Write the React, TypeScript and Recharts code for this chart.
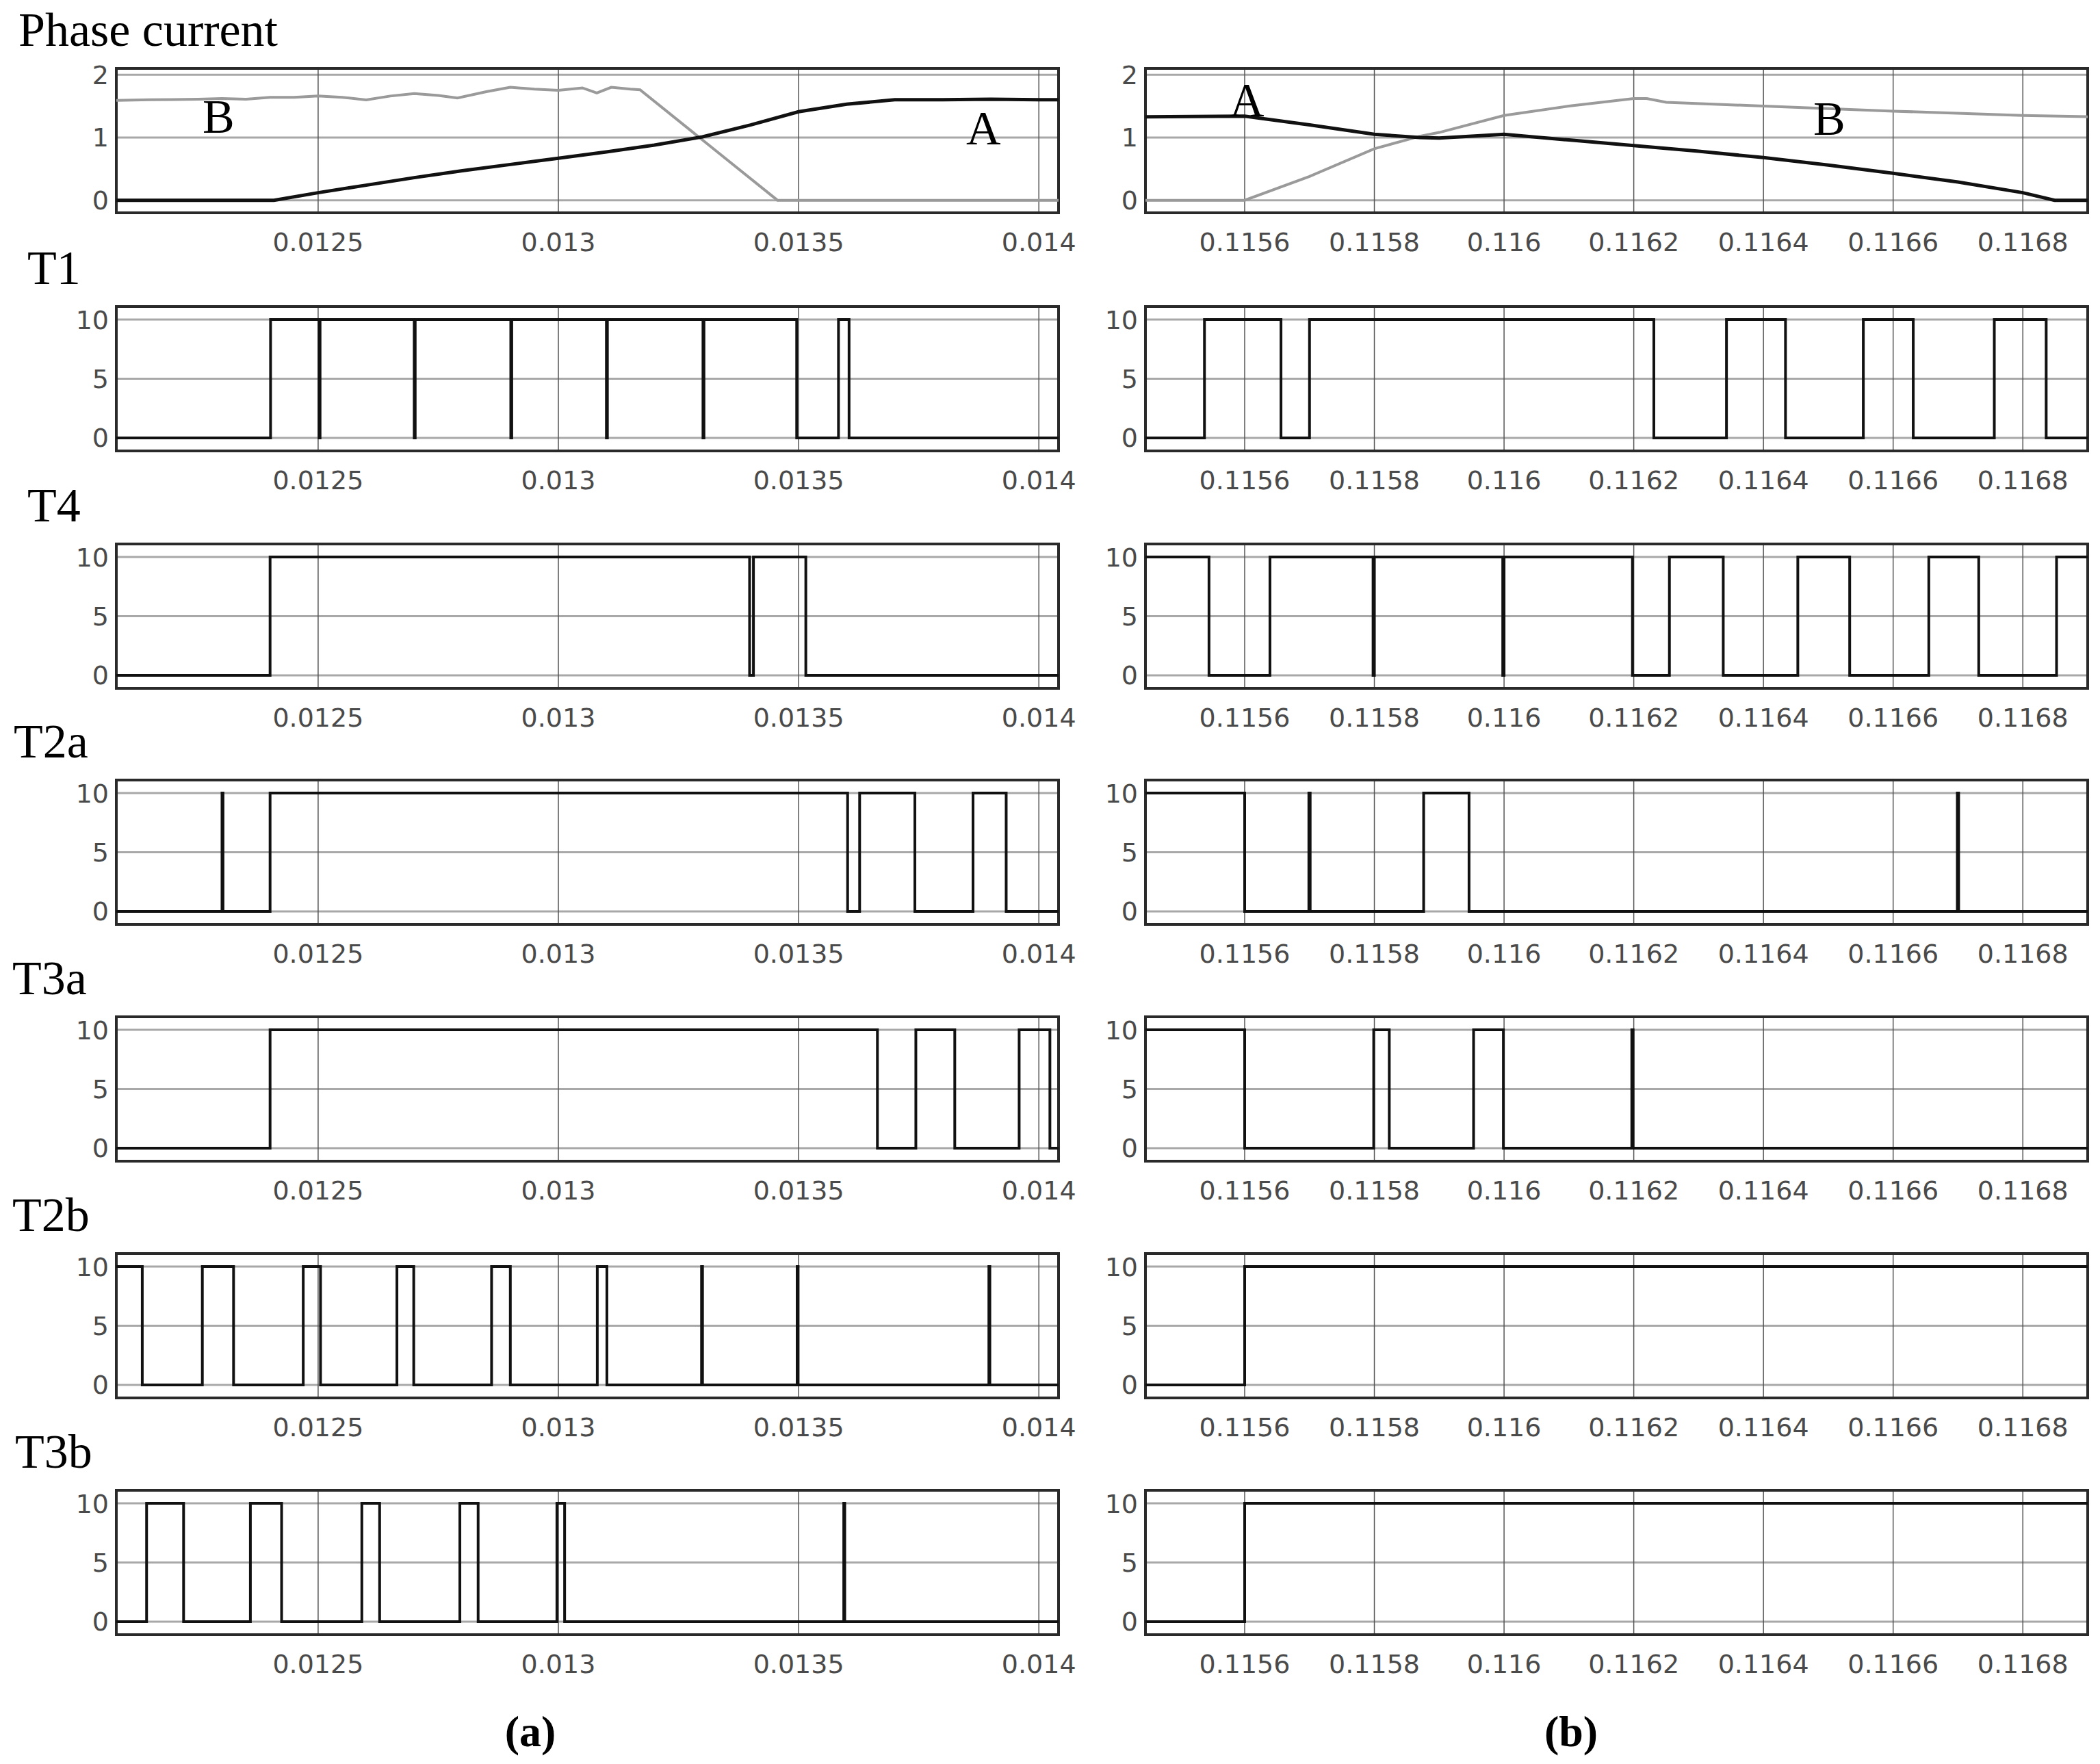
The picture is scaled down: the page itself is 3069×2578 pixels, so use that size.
import { CartesianGrid, Line, LineChart, ReferenceArea, XAxis, YAxis } from 'recharts'

// time windows (s)
const LEFT_DOMAIN = [0.01208, 0.014041]
const RIGHT_DOMAIN = [0.115447, 0.1169]
const LEFT_TICKS = [0.0125, 0.013, 0.0135, 0.014]
const RIGHT_TICKS = [0.1156, 0.1158, 0.116, 0.1162, 0.1164, 0.1166, 0.1168]

const CURRENT_DOMAIN = [-0.2, 2.1]
const CURRENT_TICKS = [0, 1, 2]
const GATE_DOMAIN = [-1.1, 11.1]
const GATE_TICKS = [0, 5, 10]

const ROW_TITLES = ['Phase current', 'T1', 'T4', 'T2a', 'T3a', 'T2b', 'T3b']

// phase currents [t, A]
const LEFT_IA = [
  [0.01208, 0], [0.012408, 0], [0.0125, 0.12], [0.0126, 0.24], [0.0127, 0.36], [0.0128, 0.47],
  [0.0129, 0.57], [0.013, 0.67], [0.0131, 0.77], [0.0132, 0.88], [0.0133, 1.01], [0.0134, 1.2],
  [0.0135, 1.41], [0.0136, 1.53], [0.0137, 1.6], [0.0138, 1.6], [0.0139, 1.61], [0.014, 1.6],
  [0.014041, 1.6],
]
const LEFT_IB = [
  [0.01208, 1.59], [0.01215, 1.6], [0.01225, 1.61], [0.0123, 1.62], [0.01235, 1.61], [0.0124, 1.64],
  [0.01245, 1.64], [0.0125, 1.66], [0.01255, 1.64], [0.0126, 1.6], [0.01265, 1.66], [0.0127, 1.7],
  [0.01275, 1.67], [0.01279, 1.63], [0.01285, 1.73], [0.0129, 1.8], [0.01295, 1.77], [0.013, 1.75],
  [0.01305, 1.79], [0.01308, 1.71], [0.01311, 1.8], [0.01315, 1.77], [0.01317, 1.76],
  [0.013456, 0], [0.014041, 0],
]
const RIGHT_IA = [
  [0.115447, 1.33], [0.1156, 1.34], [0.1157, 1.2], [0.1158, 1.05], [0.11587, 1.0], [0.1159, 0.99],
  [0.116, 1.05], [0.1161, 0.96], [0.1162, 0.87], [0.1163, 0.78], [0.1164, 0.68], [0.1165, 0.56],
  [0.1166, 0.43], [0.1167, 0.29], [0.1168, 0.12], [0.116849, 0], [0.1169, 0],
]
const RIGHT_IB = [
  [0.115447, 0], [0.1156, 0], [0.1157, 0.38], [0.1158, 0.82], [0.11587, 1.02], [0.1159, 1.08],
  [0.116, 1.35], [0.1161, 1.5], [0.1162, 1.62], [0.11622, 1.62], [0.11625, 1.56], [0.1164, 1.5],
  [0.1166, 1.42], [0.1168, 1.35], [0.1169, 1.33],
]

// gate signals: starting level and switching instants
const LEFT_T1 = { start: 0, edges: [0.012401, 0.012502, 0.012504, 0.0127, 0.012702, 0.012901, 0.012903, 0.0131, 0.013102, 0.013301, 0.013303, 0.013496, 0.013583, 0.013605] }
const LEFT_T4 = { start: 0, edges: [0.0124, 0.013398, 0.013406, 0.013515] }
const LEFT_T2A = { start: 0, edges: [0.0123, 0.012302, 0.0124, 0.013602, 0.013627, 0.013742, 0.013863, 0.013932] }
const LEFT_T3A = { start: 0, edges: [0.0124, 0.013664, 0.013744, 0.013825, 0.013959, 0.014023] }
const LEFT_T2B = { start: 10, edges: [0.012134, 0.012259, 0.012324, 0.012469, 0.012505, 0.012664, 0.012699, 0.012861, 0.0129, 0.013081, 0.013101, 0.013298, 0.0133, 0.013497, 0.013499, 0.013896, 0.013898] }
const LEFT_T3B = { start: 0, edges: [0.012143, 0.01222, 0.012359, 0.012424, 0.012591, 0.012628, 0.012795, 0.012833, 0.012997, 0.013013, 0.013594, 0.013596] }

const RIGHT_T1 = { start: 0, edges: [0.115538, 0.115656, 0.1157, 0.116231, 0.116343, 0.116434, 0.116554, 0.116631, 0.116756, 0.116836] }
const RIGHT_T4 = { start: 10, edges: [0.115545, 0.115639, 0.115798, 0.1158, 0.115998, 0.116, 0.116198, 0.116255, 0.116338, 0.116453, 0.116533, 0.116655, 0.116732, 0.116852] }
const RIGHT_T2A = { start: 10, edges: [0.1156, 0.115699, 0.115701, 0.115876, 0.115946, 0.116699, 0.116701] }
const RIGHT_T3A = { start: 10, edges: [0.1156, 0.115799, 0.115823, 0.115953, 0.115999, 0.116197, 0.116199] }
const RIGHT_T2B = { start: 0, edges: [0.1156] }
const RIGHT_T3B = { start: 0, edges: [0.1156] }

// layout (px)
const ROW_TOPS = [100, 448, 795, 1140, 1486, 1832, 2178]
const BOX_H = 211
const BOX_W = 1377
const LEFT_X = 170
const RIGHT_X = 1674
const Y_AXIS_W = 110
const X_AXIS_H = 80
const PAD_TOP = 30
const PAD_RIGHT = 40

const TITLE_X = [27, 40, 40, 20, 18, 18, 22]

const toPoints = (rows: number[][]) => rows.map(([t, v]) => ({ t, v }))

function steps(domain: number[], sig: { start: number; edges: number[] }) {
  let level = sig.start
  const pts = [{ t: domain[0], v: level }]
  for (const e of sig.edges) {
    level = level === 0 ? 10 : 0
    pts.push({ t: e, v: level })
  }
  pts.push({ t: domain[1], v: level })
  return pts
}

type Series = { data: { t: number; v: number }[]; color: string; width: number; type: 'linear' | 'stepAfter' }

const tickStyle = { fontFamily: 'DejaVu Sans', fontSize: 38, fill: '#4a4a4a' }

function Panel({ left, top, xDomain, xTicks, yDomain, yTicks, series }: {
  left: number; top: number; xDomain: number[]; xTicks: number[]; yDomain: number[]; yTicks: number[]; series: Series[]
}) {
  return (
    <div style={{ position: 'absolute', left: left - Y_AXIS_W, top: top - PAD_TOP }}>
      <LineChart
        width={Y_AXIS_W + BOX_W + PAD_RIGHT}
        height={PAD_TOP + BOX_H + X_AXIS_H}
        margin={{ top: PAD_TOP, right: PAD_RIGHT, bottom: 0, left: 0 }}
      >
        <CartesianGrid vertical={false} stroke="#a8a8a8" strokeWidth={3} />
        <CartesianGrid horizontal={false} stroke="#555" strokeWidth={1.5} />
        <XAxis
          type="number"
          dataKey="t"
          domain={xDomain}
          ticks={xTicks}
          interval={0}
          allowDataOverflow
          axisLine={false}
          tickLine={false}
          tickSize={0}
          tickMargin={29}
          height={X_AXIS_H}
          tick={tickStyle}
        />
        <YAxis
          type="number"
          domain={yDomain}
          ticks={yTicks}
          interval={0}
          allowDataOverflow
          axisLine={false}
          tickLine={false}
          tickSize={0}
          tickMargin={11}
          width={Y_AXIS_W}
          tick={tickStyle}
        />
        <ReferenceArea
          x1={xDomain[0]}
          x2={xDomain[1]}
          y1={yDomain[0]}
          y2={yDomain[1]}
          fill="none"
          stroke="#2a2a2a"
          strokeWidth={4}
          ifOverflow="visible"
        />
        {series.map((s, i) => (
          <Line
            key={i}
            data={s.data}
            dataKey="v"
            type={s.type}
            stroke={s.color}
            strokeWidth={s.width}
            dot={false}
            activeDot={false}
            isAnimationActive={false}
          />
        ))}
      </LineChart>
    </div>
  )
}

const gate = (data: { t: number; v: number }[]): Series[] => [
  { data, color: '#111', width: 4, type: 'stepAfter' },
]

export default function App() {
  const leftRows: Series[][] = [
    [
      { data: toPoints(LEFT_IB), color: '#9a9a9a', width: 4, type: 'linear' },
      { data: toPoints(LEFT_IA), color: '#111', width: 5, type: 'linear' },
    ],
    gate(steps(LEFT_DOMAIN, LEFT_T1)),
    gate(steps(LEFT_DOMAIN, LEFT_T4)),
    gate(steps(LEFT_DOMAIN, LEFT_T2A)),
    gate(steps(LEFT_DOMAIN, LEFT_T3A)),
    gate(steps(LEFT_DOMAIN, LEFT_T2B)),
    gate(steps(LEFT_DOMAIN, LEFT_T3B)),
  ]
  const rightRows: Series[][] = [
    [
      { data: toPoints(RIGHT_IB), color: '#9a9a9a', width: 4, type: 'linear' },
      { data: toPoints(RIGHT_IA), color: '#111', width: 5, type: 'linear' },
    ],
    gate(steps(RIGHT_DOMAIN, RIGHT_T1)),
    gate(steps(RIGHT_DOMAIN, RIGHT_T4)),
    gate(steps(RIGHT_DOMAIN, RIGHT_T2A)),
    gate(steps(RIGHT_DOMAIN, RIGHT_T3A)),
    gate(steps(RIGHT_DOMAIN, RIGHT_T2B)),
    gate(steps(RIGHT_DOMAIN, RIGHT_T3B)),
  ]

  return (
    <div style={{ position: 'absolute', left: 0, top: 0, width: 3069, height: 2578, background: '#fff', overflow: 'hidden' }}>
      {ROW_TOPS.map((top, i) => (
        <Panel
          key={'l' + i}
          left={LEFT_X}
          top={top}
          xDomain={LEFT_DOMAIN}
          xTicks={LEFT_TICKS}
          yDomain={i === 0 ? CURRENT_DOMAIN : GATE_DOMAIN}
          yTicks={i === 0 ? CURRENT_TICKS : GATE_TICKS}
          series={leftRows[i]}
        />
      ))}
      {ROW_TOPS.map((top, i) => (
        <Panel
          key={'r' + i}
          left={RIGHT_X}
          top={top}
          xDomain={RIGHT_DOMAIN}
          xTicks={RIGHT_TICKS}
          yDomain={i === 0 ? CURRENT_DOMAIN : GATE_DOMAIN}
          yTicks={i === 0 ? CURRENT_TICKS : GATE_TICKS}
          series={rightRows[i]}
        />
      ))}
      <svg width={3069} height={2578} style={{ position: 'absolute', left: 0, top: 0, pointerEvents: 'none' }}>
        <g fontFamily="Liberation Serif" fontSize={70} fill="#000">
          {ROW_TITLES.map((title, i) => (
            <text key={title} x={TITLE_X[i]} y={ROW_TOPS[i] - 33}>{title}</text>
          ))}
        </g>
        <g fontFamily="Liberation Serif" fontSize={70} fill="#000">
          <text x={296} y={194}>B</text>
          <text x={1412} y={211}>A</text>
          <text x={1797} y={170}>A</text>
          <text x={2650} y={197}>B</text>
        </g>
        <g fontFamily="Liberation Serif" fontSize={64} fontWeight="bold" fill="#000" textAnchor="middle">
          <text x={775} y={2552}>(a)</text>
          <text x={2296} y={2552}>(b)</text>
        </g>
      </svg>
    </div>
  )
}
